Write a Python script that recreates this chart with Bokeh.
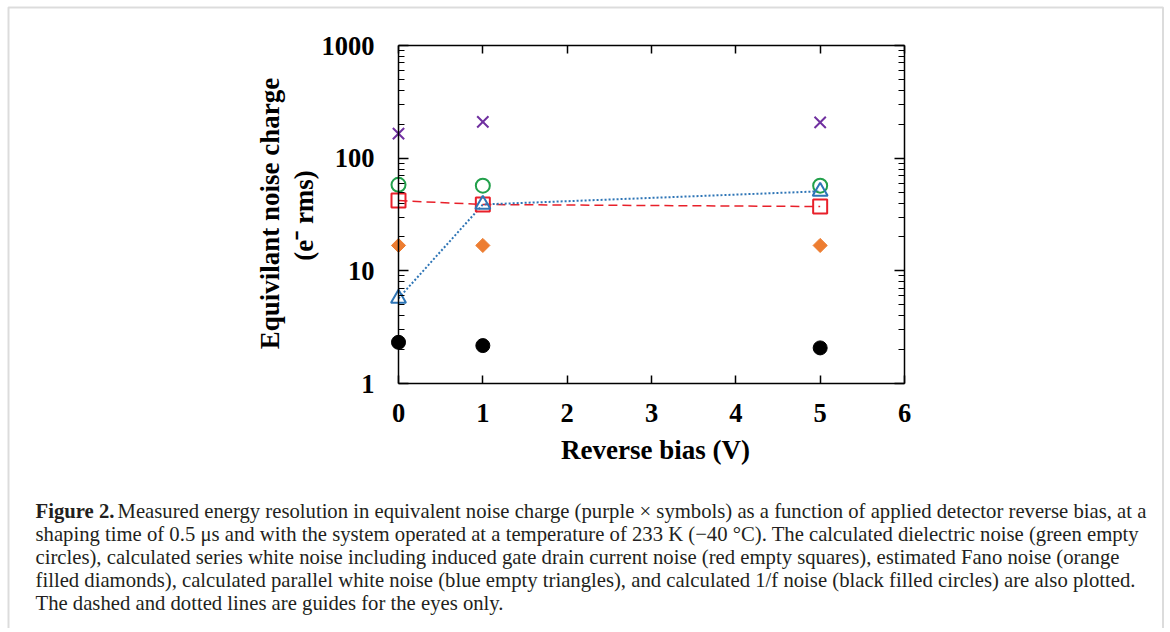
import numpy as np
from bokeh.plotting import figure
from bokeh.models import (Label, LinearAxis, LogAxis, FixedTicker,
                          PrintfTickFormatter, Range1d, BoxAnnotation)
from bokeh.embed import file_html
from bokeh.resources import INLINE

# ---- data ----
bias = [0, 1, 5]
enc_measured = [165, 210, 208]       # purple x
dielectric = [58, 57, 57]            # green empty circles
series_white = [42, 38.8, 37.2]      # red empty squares
fano = [16.8, 16.8, 16.8]            # orange filled diamonds
parallel_white = [5.7, 38.8, 50.8]   # blue empty triangles
one_over_f = [2.32, 2.17, 2.07]      # black filled circles

x_ticks = [0, 1, 2, 3, 4, 5, 6]
y_ticks = [1, 10, 100, 1000]
y_minor = [k * 10 ** e for e in range(0, 3) for k in range(2, 10)]

x_title = "Reverse bias (V)"
y_title_1 = "Equivilant noise charge"
y_title_2 = "(e\u207b rms)"

caption_bold = "Figure 2."
caption_lines = [
    "Measured energy resolution in equivalent noise charge (purple \u00d7 symbols) as a function of applied detector reverse bias, at a",
    "shaping time of 0.5 \u03bcs and with the system operated at a temperature of 233 K (\u221240 \u00b0C). The calculated dielectric noise (green empty",
    "circles), calculated series white noise including induced gate drain current noise (red empty squares), estimated Fano noise (orange",
    "filled diamonds), calculated parallel white noise (blue empty triangles), and calculated 1/f noise (black filled circles) are also plotted.",
    "The dashed and dotted lines are guides for the eyes only.",
]

SERIF = "Liberation Serif"

# ---- layout geometry (page pixels) ----
W, H = 1166, 628
CANVAS_L, CANVAS_T = 0, 0
X0PX, X6PX = 398, 904      # x = 0 and x = 6
Y1PX, Y1000PX = 383, 45    # y = 1 and y = 1000


def dx(px):
    return (px - X0PX) / (X6PX - X0PX) * 6.0


def dy(py):
    return 10 ** ((Y1PX - py) / (Y1PX - Y1000PX) * 3.0)


p = figure(width=W, height=H,
           x_range=Range1d(dx(CANVAS_L), dx(CANVAS_L + W)),
           y_range=Range1d(dy(CANVAS_T + H), dy(CANVAS_T)),
           y_axis_type="log", x_axis_location=None, y_axis_location=None,
           output_backend="svg", toolbar_location=None, title=None,
           min_border=0)
p.background_fill_color = "white"
p.border_fill_color = "white"
p.outline_line_color = None
p.xgrid.visible = False
p.ygrid.visible = False


def style_axis(ax, show_labels):
    ax.axis_line_color = "black"
    ax.axis_line_width = 1.5
    ax.major_tick_in = 10
    ax.major_tick_out = 0
    ax.minor_tick_in = 6
    ax.minor_tick_out = 0
    ax.major_tick_line_color = "black"
    ax.minor_tick_line_color = "black"
    ax.major_tick_line_width = 1.5
    ax.minor_tick_line_width = 1.2
    ax.major_label_text_font = SERIF
    ax.major_label_text_font_style = "bold"
    ax.major_label_text_font_size = "26.5px"
    ax.major_label_text_color = "black"
    if not show_labels:
        ax.major_label_overrides = {t: "" for t in ax.ticker.ticks}


left = LogAxis(ticker=FixedTicker(ticks=y_ticks, minor_ticks=y_minor),
               formatter=PrintfTickFormatter(format="%d"),
               fixed_location=0, bounds=(1, 1000))
style_axis(left, True)
left.major_label_standoff = 24
p.add_layout(left, "left")

right = LogAxis(ticker=FixedTicker(ticks=y_ticks, minor_ticks=y_minor),
                formatter=PrintfTickFormatter(format="%d"),
                fixed_location=6, bounds=(1, 1000))
style_axis(right, False)
p.add_layout(right, "right")

bottom = LinearAxis(ticker=FixedTicker(ticks=x_ticks, minor_ticks=[]),
                    fixed_location=1, bounds=(0, 6))
style_axis(bottom, True)
bottom.major_tick_in = 8
bottom.major_label_standoff = 20
p.add_layout(bottom, "below")

top = LinearAxis(ticker=FixedTicker(ticks=x_ticks, minor_ticks=[]),
                 fixed_location=1000, bounds=(0, 6))
style_axis(top, False)
top.major_tick_in = 8
p.add_layout(top, "above")

# guide lines
p.line(bias, series_white, line_color="#E8202A", line_dash="9 5", line_width=1.5)
p.line(bias, parallel_white, line_color="#2E75B6", line_dash="2 2", line_width=2)

# markers
p.scatter(bias, enc_measured, marker="x", size=16, line_color="#7030A0", line_width=2)
p.scatter(bias, dielectric, marker="circle", size=14, fill_color=None,
          line_color="#22A04B", line_width=2)
p.scatter(bias, series_white, marker="square", size=14, fill_color=None,
          line_color="#E8202A", line_width=2)
p.scatter(bias, fano, marker="square", angle=np.pi / 4, size=10,
          fill_color="#ED7D31", line_color="#ED7D31")
p.scatter(bias, parallel_white, marker="triangle", size=15, fill_color=None,
          line_color="#2E75B6", line_width=2)
p.scatter(bias, one_over_f, marker="circle", size=14, fill_color="black",
          line_color="black")

# outer figure border (open at the bottom, below the window)
p.add_layout(BoxAnnotation(left=dx(8), right=dx(1162.5), top=dy(7), bottom=dy(760),
                           fill_color=None, line_color="#8c8c8c", line_width=2,
                           level="underlay"))

# axis titles
title_font = dict(text_color="black", text_font=SERIF, text_font_size="27px",
                  text_font_style="bold", text_align="center",
                  text_baseline="middle")
p.add_layout(Label(x=dx(655), y=dy(449), text=x_title, **title_font))
p.add_layout(Label(x=dx(269), y=dy(213), text=y_title_1, angle=np.pi / 2, **title_font))
p.add_layout(Label(x=dx(303), y=dy(215), text=y_title_2, angle=np.pi / 2, **title_font))

# caption
cap = dict(text_color="#231f20", text_font=SERIF, text_font_size="20.7px",
           text_baseline="middle", text_align="left")
line_y = [510, 533, 556, 579, 602]
p.add_layout(Label(x=dx(35), y=dy(line_y[0]), text=caption_bold,
                   text_font_style="bold", **cap))
p.add_layout(Label(x=dx(117), y=dy(line_y[0]), text=caption_lines[0], **cap))
for txt, yy in zip(caption_lines[1:], line_y[1:]):
    p.add_layout(Label(x=dx(35), y=dy(yy), text=txt, **cap))

open("out.html", "w").write(file_html(p, INLINE))
